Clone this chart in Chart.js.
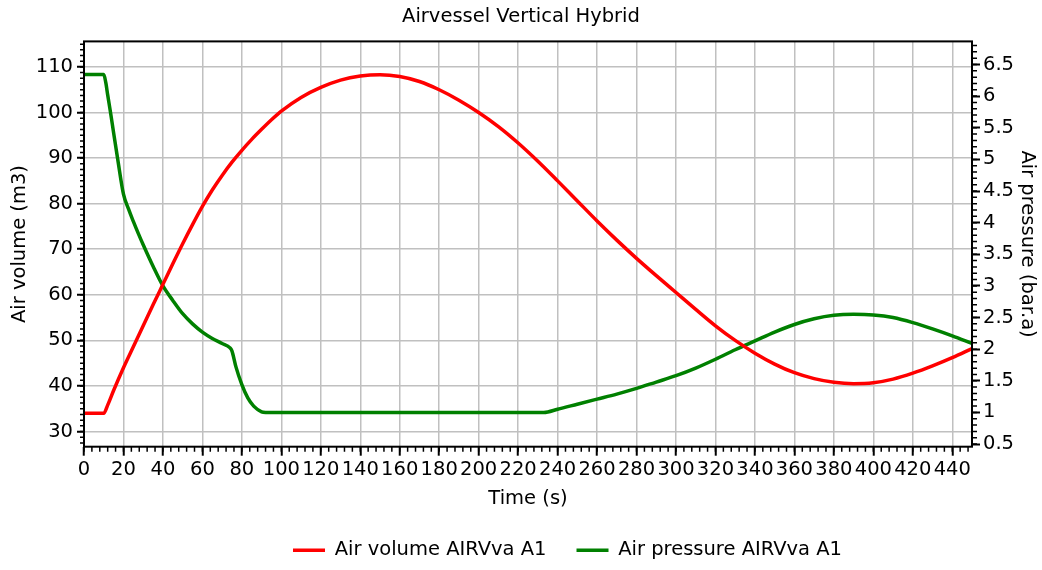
<!DOCTYPE html>
<html>
<head>
<meta charset="utf-8">
<title>Airvessel Vertical Hybrid</title>
<script src="https://cdn.jsdelivr.net/npm/chart.js@4.4.1/dist/chart.umd.min.js"></script>
<style>
  html, body { margin: 0; padding: 0; background: #fff; }
</style>
</head>
<body>
<canvas id="myChart" width="1042" height="570"></canvas>
<script>
// Air volume (m3) against time (s)
const volumeTime = [0, 10, 12, 15, 20, 25, 30, 35, 40, 45, 50, 55, 60, 65, 70, 75, 80, 85, 90, 95,
  100, 110, 120, 130, 140, 150, 160, 170, 180, 190, 200, 210, 220, 230, 240, 250, 260, 270, 280, 290,
  300, 310, 320, 330, 340, 350, 360, 370, 380, 390, 400, 410, 420, 430, 440, 450];
const airVolume = [34, 34, 35.8, 39.0, 44.0, 48.6, 53.2, 57.8, 62.3, 66.8, 71.2, 75.4, 79.4, 83.0, 86.2, 89.1, 91.7, 94.1, 96.3, 98.4,
  100.3, 103.3, 105.5, 107.1, 108.0, 108.3, 107.9, 106.8, 105.0, 102.7, 100.0, 96.9, 93.3, 89.3, 85.0, 80.6, 76.2, 72.0, 68.0, 64.2,
  60.5, 56.8, 53.2, 50.0, 47.2, 44.8, 42.9, 41.6, 40.8, 40.5, 40.7, 41.5, 42.8, 44.4, 46.2, 48.2];

// Air pressure (bar.a) against time (s)
const pressureTime = [0, 10, 11, 12, 13.5, 15, 17, 20, 22.5, 25, 27.5, 30, 35, 40, 45, 50, 55, 60, 65, 70,
  74, 75, 77, 80, 83, 86, 90, 92, 233, 240, 250, 260, 270, 280, 290, 300, 310, 320, 330, 340,
  350, 360, 370, 380, 390, 400, 410, 420, 430, 440, 450];
const airPressure = [6.34, 6.34, 6.22, 6.02, 5.73, 5.42, 5.02, 4.45, 4.22, 4.02, 3.83, 3.65, 3.31, 3.0, 2.77, 2.56, 2.40, 2.27, 2.17, 2.09,
  2.02, 1.97, 1.72, 1.44, 1.23, 1.10, 1.01, 1.0, 1.0, 1.05, 1.13, 1.21, 1.29, 1.38, 1.48, 1.58, 1.70, 1.84, 1.99, 2.13,
  2.27, 2.39, 2.48, 2.535, 2.55, 2.54, 2.50, 2.42, 2.32, 2.21, 2.09];

// tick labels
const timeTicks = [0, 20, 40, 60, 80, 100, 120, 140, 160, 180, 200, 220, 240, 260, 280, 300, 320, 340, 360, 380, 400, 420, 440];
const volumeTicks = [30, 40, 50, 60, 70, 80, 90, 100, 110];
const pressureTicks = [0.5, 1, 1.5, 2, 2.5, 3, 3.5, 4, 4.5, 5, 5.5, 6, 6.5];

const toPoints = (xs, ys) => xs.map((t, i) => ({ x: t, y: ys[i] }));
const setTicks = list => scale => { scale.ticks = list.map(v => ({ value: v })); };

Chart.defaults.font.family = "'DejaVu Sans', sans-serif";
Chart.defaults.font.size = 19.5;
Chart.defaults.color = "#000";

// black frame round the plot + small minor ticks on the three axes
const frameAndMinorTicks = {
  id: "frameAndMinorTicks",
  afterDraw(chart) {
    const { ctx, chartArea: a, scales } = chart;
    ctx.save();
    ctx.strokeStyle = "#000";
    ctx.lineWidth = 1.5;
    ctx.beginPath();
    for (let i = 0; i <= 112; i++) {
      const px = scales.x.getPixelForValue(i * 4);
      if (px > a.right + 0.5) break;
      ctx.moveTo(px, a.bottom);
      ctx.lineTo(px, a.bottom + 5);
    }
    for (let i = 21; i <= 93; i++) {
      const py = scales.y.getPixelForValue(i * 1.25);
      if (py < a.top || py > a.bottom) continue;
      ctx.moveTo(a.left, py);
      ctx.lineTo(a.left - 4, py);
    }
    for (let i = 5; i <= 68; i++) {
      const py = scales.y1.getPixelForValue(i / 10);
      if (py < a.top || py > a.bottom) continue;
      ctx.moveTo(a.right, py);
      ctx.lineTo(a.right + 5, py);
    }
    ctx.stroke();
    ctx.lineWidth = 2;
    ctx.strokeRect(a.left, a.top, a.right - a.left, a.bottom - a.top);
    ctx.restore();
  },
};

// legend sits a little right of centre in the original
const legendOffset = {
  id: "legendOffset",
  afterLayout(chart) {
    const lg = chart.legend;
    const shift = 263 - lg.left;
    lg.left += shift;
    lg.right += shift;
  },
};

const ctx = document.getElementById("myChart").getContext("2d");

new Chart(ctx, {
  type: "line",
  data: {
    datasets: [
      {
        label: "Air volume AIRVva A1",
        data: toPoints(volumeTime, airVolume),
        yAxisID: "y",
        borderColor: "#ff0000",
        backgroundColor: "#ff0000",
        borderWidth: 3.5,
        pointRadius: 0,
        cubicInterpolationMode: "monotone",
      },
      {
        label: "Air pressure AIRVva A1",
        data: toPoints(pressureTime, airPressure),
        yAxisID: "y1",
        borderColor: "#008000",
        backgroundColor: "#008000",
        borderWidth: 3.5,
        pointRadius: 0,
        cubicInterpolationMode: "monotone",
      },
    ],
  },
  options: {
    responsive: false,
    animation: false,
    devicePixelRatio: 1,
    events: [],
    layout: { padding: 0 },
    plugins: {
      title: {
        display: true,
        text: "Airvessel Vertical Hybrid",
        color: "#000",
        font: { size: 19.5, weight: "normal" },
        padding: { top: 5, bottom: 13 },
      },
      legend: {
        position: "bottom",
        align: "start",
        labels: {
          usePointStyle: true,
          pointStyle: "line",
          pointStyleWidth: 32,
          padding: 30,
          color: "#000",
          font: { size: 19.5 },
        },
      },
      tooltip: { enabled: false },
    },
    scales: {
      x: {
        type: "linear",
        position: "bottom",
        min: 0,
        max: 450,
        afterBuildTicks: setTicks(timeTicks),
        ticks: { autoSkip: false, maxRotation: 0, padding: 3, callback: v => String(v) },
        grid: { color: "#c0c0c0", lineWidth: 1.5, tickColor: "#000", tickLength: 9, tickWidth: 2 },
        border: { display: false },
        title: { display: true, text: "Time (s)", padding: { top: 2, bottom: 0 } },
      },
      y: {
        type: "linear",
        position: "left",
        min: 26.67,
        max: 115.6,
        afterBuildTicks: setTicks(volumeTicks),
        afterFit: s => { s.width = 84; },
        ticks: { padding: 4, callback: v => String(v) },
        grid: { color: "#c0c0c0", lineWidth: 1.5, tickColor: "#000", tickLength: 7, tickWidth: 2 },
        border: { display: false },
        title: { display: true, text: "Air volume (m3)", padding: { top: 8, bottom: 0 } },
      },
      y1: {
        type: "linear",
        position: "right",
        min: 0.458,
        max: 6.865,
        afterBuildTicks: setTicks(pressureTicks),
        afterFit: s => { s.width = 70; },
        ticks: { padding: 3, callback: v => String(v) },
        grid: { drawOnChartArea: false, tickColor: "#000", tickLength: 8, tickWidth: 2 },
        border: { display: false },
        title: { display: true, text: "Air pressure (bar.a)", padding: { top: 3, bottom: 0 } },
      },
    },
  },
  plugins: [frameAndMinorTicks, legendOffset],
});
</script>
</body>
</html>
